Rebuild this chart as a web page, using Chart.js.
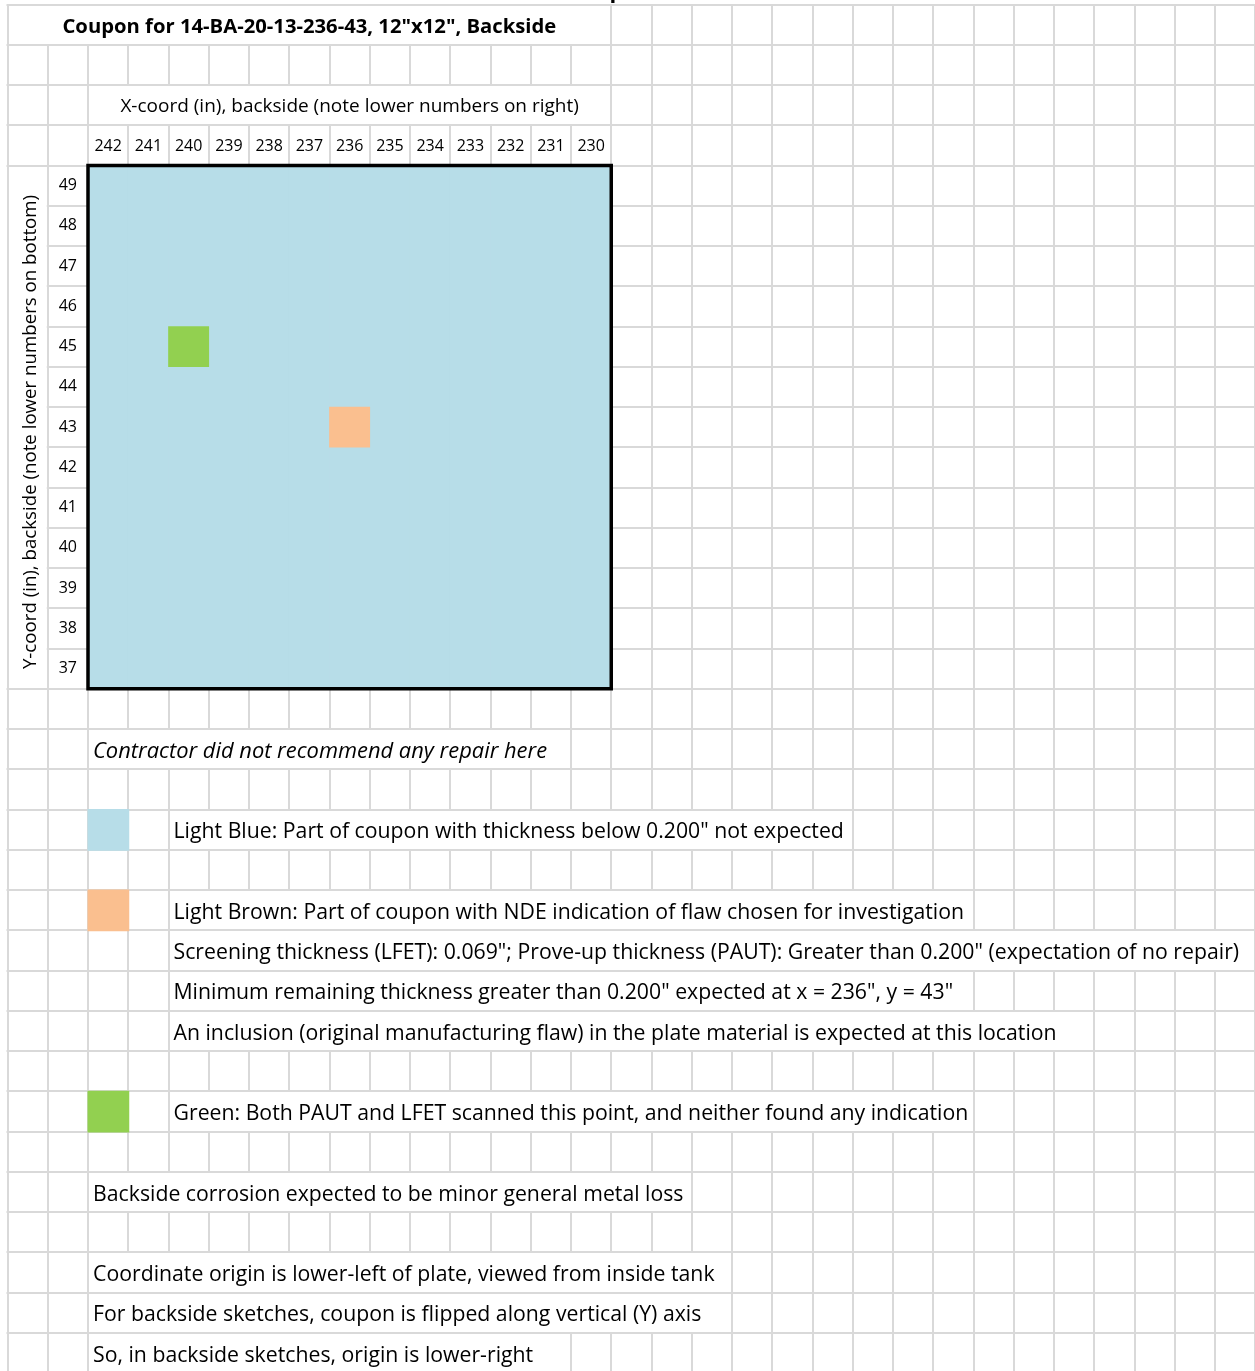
<!DOCTYPE html>
<html>
<head>
<meta charset="utf-8">
<title>Coupon 14-BA-20-13-236-43, backside</title>
<script src="https://cdn.jsdelivr.net/npm/chart.js@4.4.1/dist/chart.umd.min.js"></script>
<style>
  html, body { margin: 0; padding: 0; background: #fff; }
  #wrap { width: 1255px; height: 1371px; overflow: hidden; }
  canvas { display: block; }
</style>
</head>
<body>
<div id="wrap"><canvas id="sheet" width="1255" height="1371"></canvas></div>
<script>
/* ================= DATA ================= */
const xCoords = [242, 241, 240, 239, 238, 237, 236, 235, 234, 233, 232, 231, 230];
const yCoords = [49, 48, 47, 46, 45, 44, 43, 42, 41, 40, 39, 38, 37];
const plateY = [37, 49];      // coupon rows, bottom to top
const flawX = ["236"];        // light brown cell (NDE indication)
const flawY = [43];
const clearX = ["240"];       // green cell (scanned, nothing found)
const clearY = [45];

const titleText = 'Coupon for 14-BA-20-13-236-43, 12"x12", Backside';
const xAxisText = "X-coord (in), backside (note lower numbers on right)";
const yAxisText = "Y-coord (in), backside (note lower numbers on bottom)";

/* ================= SHEET LOOK ================= */
const BLUE = "#B7DDE8";
const BROWN = "#FABF8F";
const GREEN = "#92D050";
const GRID = "#D9D9D9";
const FONT = "Open Sans";

// horizontal squeeze per text style (to get the Calibri-like widths)
const KX = { regular: 1.012, italic: 1.042, bold: 1.012, xcap: 1.0, ycap: 0.983 };

const CELL = 40.25, X0 = 7.5, Y0 = 4.5, COLS = 31, ROWS = 34;
const gx = i => X0 + CELL * i;
const gy = k => Y0 + CELL * k;

// notes below the plate: row / first column of the spreadsheet
const notes = [
  { row: 18, col: 2, italic: true, text: "Contractor did not recommend any repair here" },
  { row: 20, col: 4, swatch: BLUE, text: 'Light Blue: Part of coupon with thickness below 0.200" not expected' },
  { row: 22, col: 4, swatch: BROWN, text: "Light Brown: Part of coupon with NDE indication of flaw chosen for investigation" },
  { row: 23, col: 4, text: 'Screening thickness (LFET): 0.069"; Prove-up thickness (PAUT): Greater than 0.200" (expectation of no repair)' },
  { row: 24, col: 4, text: 'Minimum remaining thickness greater than 0.200" expected at x = 236", y = 43"' },
  { row: 25, col: 4, text: "An inclusion (original manufacturing flaw) in the plate material is expected at this location" },
  { row: 27, col: 4, swatch: GREEN, text: "Green: Both PAUT and LFET scanned this point, and neither found any indication" },
  { row: 29, col: 2, text: "Backside corrosion expected to be minor general metal loss" },
  { row: 31, col: 2, text: "Coordinate origin is lower-left of plate, viewed from inside tank" },
  { row: 32, col: 2, text: "For backside sketches, coupon is flipped along vertical (Y) axis" },
  { row: 33, col: 2, text: "So, in backside sketches, origin is lower-right" }
];

function noteFont(n) {
  return (n.italic ? "italic " : "") + "21px '" + FONT + "'";
}

function squeezedText(ctx, text, x, y, k) {
  ctx.save();
  ctx.translate(x, y);
  ctx.scale(k, 1);
  ctx.fillText(text, 0, 0);
  ctx.restore();
}

/* ================= SHEET PLUGIN ================= */
const sheetPlugin = {
  id: "sheet",
  beforeDraw(chart) {
    const ctx = chart.ctx;
    ctx.save();
    ctx.fillStyle = "#fff";
    ctx.fillRect(0, 0, chart.width, chart.height);

    // hidden vertical gridlines (merged cells and overflowing text)
    const hidden = {};
    const hide = (row, from, to) => {
      hidden[row] = hidden[row] || new Set();
      for (let i = from + 1; i < to; i++) hidden[row].add(i);
    };
    hide(0, 0, 15);
    hide(2, 2, 15);
    notes.forEach(n => {
      ctx.font = noteFont(n);
      const k = n.italic ? KX.italic : KX.regular;
      const end = gx(n.col) + 5 + ctx.measureText(n.text).width * k;
      let i = n.col + 1;
      while (gx(i) < end + 2) i++;
      hide(n.row, n.col, i);
    });

    ctx.strokeStyle = GRID;
    ctx.lineWidth = 2;
    ctx.beginPath();
    for (let k = 0; k <= ROWS; k++) {
      const y = Math.round(gy(k));
      for (let c = 0; c < COLS; c++) {
        if (c === 0 && k >= 5 && k <= 16) continue;   // merged y caption cell
        ctx.moveTo(gx(c) - 1, y);
        ctx.lineTo(gx(c + 1) + 1, y);
      }
    }
    for (let i = 0; i <= COLS; i++) {
      const x = Math.round(gx(i));
      for (let r = 0; r < ROWS; r++) {
        if (hidden[r] && hidden[r].has(i)) continue;
        ctx.moveTo(x, gy(r));
        ctx.lineTo(x, gy(r + 1));
      }
    }
    ctx.stroke();
    ctx.restore();
  },
  afterDatasetsDraw(chart) {
    const { ctx, chartArea: a } = chart;
    ctx.save();
    ctx.strokeStyle = "#000";
    ctx.lineWidth = 3.5;
    ctx.strokeRect(a.left, a.top, a.right - a.left, a.bottom - a.top);
    ctx.restore();
  },
  afterDraw(chart) {
    const ctx = chart.ctx;
    ctx.save();
    ctx.fillStyle = "#000";
    ctx.textBaseline = "alphabetic";

    // clipped descender of the sheet heading above
    ctx.font = "bold 22px '" + FONT + "'";
    ctx.textAlign = "left";
    ctx.fillText("p", 609.5, -2);

    // title and x axis caption
    ctx.textAlign = "center";
    ctx.font = "bold 20px '" + FONT + "'";
    squeezedText(ctx, titleText, (gx(0) + gx(15)) / 2, gy(1) - 11.5, KX.bold);
    ctx.font = "19px '" + FONT + "'";
    squeezedText(ctx, xAxisText, (gx(2) + gx(15)) / 2, gy(3) - 13, KX.xcap);

    // rotated y axis caption
    ctx.save();
    ctx.translate(36, 432);
    ctx.rotate(-Math.PI / 2);
    ctx.font = "19px '" + FONT + "'";
    squeezedText(ctx, yAxisText, 0, 0, KX.ycap);
    ctx.restore();

    // notes and legend swatches
    ctx.textAlign = "left";
    notes.forEach(n => {
      if (n.swatch) {
        ctx.fillStyle = n.swatch;
        ctx.fillRect(gx(2) - 0.5, gy(n.row) - 0.5, CELL + 1.5, CELL + 1.5);
        ctx.fillStyle = "#000";
      }
      ctx.font = noteFont(n);
      squeezedText(ctx, n.text, gx(n.col) + 5, gy(n.row + 1) - 11.5, n.italic ? KX.italic : KX.regular);
    });
    ctx.restore();
  }
};

/* ================= CHART ================= */
const cell = (x, y) => ({ x: x, y: [y - 0.5, y + 0.5] });

new Chart(document.getElementById("sheet"), {
  type: "bar",
  data: {
    labels: xCoords.map(String),
    datasets: [
      {
        label: "Coupon",
        order: 3,
        data: xCoords.map(x => ({ x: String(x), y: [plateY[0] - 0.5, plateY[1] + 0.5] })),
        backgroundColor: BLUE
      },
      {
        label: "NDE indication",
        order: 1,
        data: flawX.map((x, i) => cell(x, flawY[i])),
        backgroundColor: BROWN
      },
      {
        label: "No indication",
        order: 1,
        data: clearX.map((x, i) => cell(x, clearY[i])),
        backgroundColor: GREEN
      }
    ]
  },
  options: {
    responsive: false,
    animation: false,
    devicePixelRatio: 1,
    layout: {
      padding: { left: gx(1), top: gy(3), right: 1255 - gx(15), bottom: 1371 - gy(17) }
    },
    datasets: {
      bar: { grouped: false, barPercentage: 1, categoryPercentage: 1, borderWidth: 0 }
    },
    plugins: {
      legend: { display: false },
      tooltip: { enabled: false }
    },
    scales: {
      x: {
        type: "category",
        position: "top",
        offset: true,
        grid: { display: false, drawTicks: false },
        border: { display: false },
        ticks: {
          color: "#000",
          font: { family: FONT, size: 16 },
          padding: 9,
          maxRotation: 0,
          autoSkip: false
        },
        afterFit: s => { s.height = CELL; }
      },
      y: {
        type: "linear",
        min: plateY[0] - 0.5,
        max: plateY[1] + 0.5,
        grid: { display: false, drawTicks: false },
        border: { display: false },
        ticks: {
          color: "#000",
          font: { family: FONT, size: 16 },
          padding: 11
        },
        afterBuildTicks: s => { s.ticks = yCoords.map(v => ({ value: v })); },
        afterFit: s => { s.width = CELL; }
      }
    }
  },
  plugins: [sheetPlugin]
});
</script>
</body>
</html>
